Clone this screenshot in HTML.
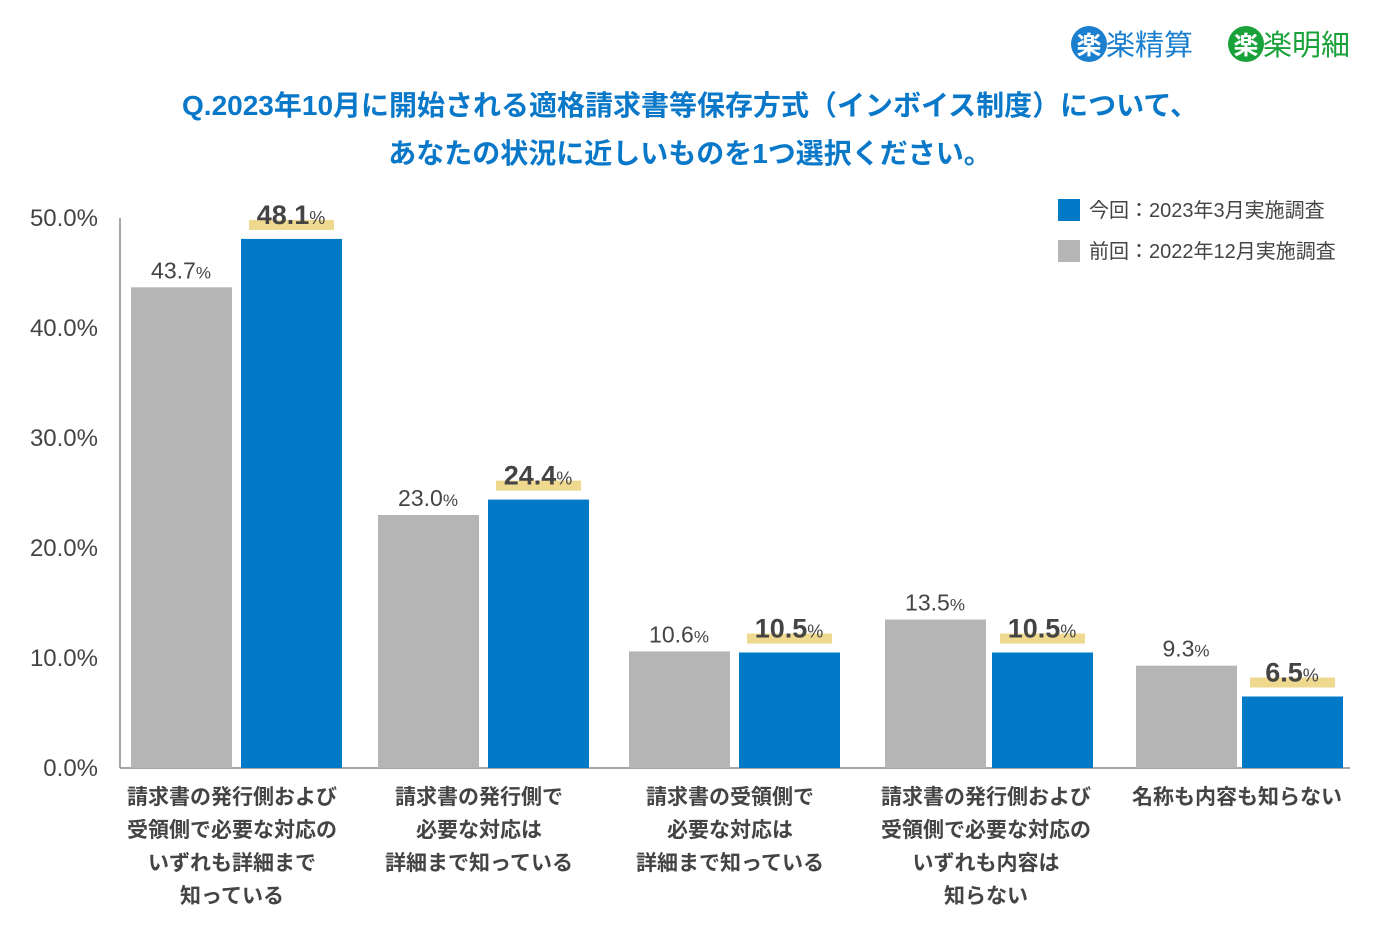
<!DOCTYPE html>
<html><head><meta charset="utf-8"><style>
body{margin:0;width:1380px;height:940px;background:#fff;overflow:hidden;font-family:"Liberation Sans","Noto Sans CJK JP",sans-serif;}
svg text{font-family:"Liberation Sans","Noto Sans CJK JP",sans-serif;}
</style></head><body>
<svg id="c" width="1380" height="940">
<g>
<circle cx="1089" cy="44" r="18" fill="#1b7fcf"/><text x="1089" y="54" font-size="25" fill="#fff" text-anchor="middle" font-weight="bold">楽</text>
<text x="1106" y="55" font-size="29" fill="#1b7fcf">楽精算</text></g>
<g>
<circle cx="1246" cy="44" r="18" fill="#1aa23a"/><text x="1246" y="54" font-size="25" fill="#fff" text-anchor="middle" font-weight="bold">楽</text>
<text x="1263" y="55" font-size="29" fill="#1aa23a">楽明細</text></g>
<text x="690" y="115" font-size="28" font-weight="bold" fill="#0a78c8" text-anchor="middle">Q.2023年10月に開始される適格請求書等保存方式（インボイス制度）について、</text>
<text x="690" y="163" font-size="28" font-weight="bold" fill="#0a78c8" text-anchor="middle">あなたの状況に近しいものを1つ選択ください。</text>
<g>
<rect x="1058" y="199" width="22" height="22" fill="#0079c7"/><text x="1089" y="217" font-size="20" fill="#444">今回：2023年3月実施調査</text>
<rect x="1058" y="240" width="22" height="22" fill="#b5b5b5"/><text x="1089" y="258" font-size="20" fill="#444">前回：2022年12月実施調査</text>
</g>
<g id="axes"></g><g id="bars"></g>
</svg>
<script>
const categories=[["請求書の発行側および","受領側で必要な対応の","いずれも詳細まで","知っている"],["請求書の発行側で","必要な対応は","詳細まで知っている"],["請求書の受領側で","必要な対応は","詳細まで知っている"],["請求書の発行側および","受領側で必要な対応の","いずれも内容は","知らない"],["名称も内容も知らない"]];
const prevValues=[43.7,23.0,10.6,13.5,9.3];
const currValues=[48.1,24.4,10.5,10.5,6.5];
const tickValues=[0,10,20,30,40,50];
const tickLabels=["0.0%","10.0%","20.0%","30.0%","40.0%","50.0%"];
const NS="http://www.w3.org/2000/svg";
const y0=768,pxPer=11;
function y(v){return y0-v*pxPer;}
const groupX=[131,378,629,885,1136];
const blueOff=[110,110,110,107,106];
function mk(t,a,p){const e=document.createElementNS(NS,t);for(const k in a)e.setAttribute(k,a[k]);p.appendChild(e);return e;}
const ax=document.getElementById('axes'),bg=document.getElementById('bars');
const yl=mk('line',{x1:120,y1:218,x2:120,y2:768,stroke:'#888','stroke-width':1.5},ax);


const xl=mk('line',{x1:120,y1:768,x2:1350,y2:768,stroke:'#888','stroke-width':1.5},ax);


tickValues.forEach((v,i)=>{const t=mk('text',{x:98,y:y(v)+8,'font-size':24,fill:'#444','text-anchor':'end'},ax);t.textContent=tickLabels[i];

});
categories.forEach((c,i)=>{
const gx=groupX[i];
const r1=mk('rect',{x:gx,y:y(prevValues[i]),width:101,height:prevValues[i]*pxPer,fill:'#b5b5b5'},bg);


const bx=gx+blueOff[i];
const r2=mk('rect',{x:bx,y:y(currValues[i]),width:101,height:currValues[i]*pxPer,fill:'#0079c7'},bg);


const l1=mk('text',{x:gx+50,y:y(prevValues[i])-9,'font-size':23,fill:'#444','text-anchor':'middle'},bg);
l1.innerHTML=prevValues[i].toFixed(1)+'<tspan font-size="17">%</tspan>';


const hl=mk('rect',{x:bx+8,y:y(currValues[i])-19,width:85,height:10,fill:'#efd98f'},bg);


const l2=mk('text',{x:bx+50,y:y(currValues[i])-15,'font-size':27,'font-weight':'bold',fill:'#444','text-anchor':'middle'},bg);
l2.innerHTML=currValues[i].toFixed(1)+'<tspan font-size="18" font-weight="normal">%</tspan>';


c.forEach((line,j)=>{const t=mk('text',{x:gx+101,y:804+j*33,'font-size':21,'font-weight':'bold',fill:'#444','text-anchor':'middle'},bg);t.textContent=line;

});
});
</script>
</body></html>
